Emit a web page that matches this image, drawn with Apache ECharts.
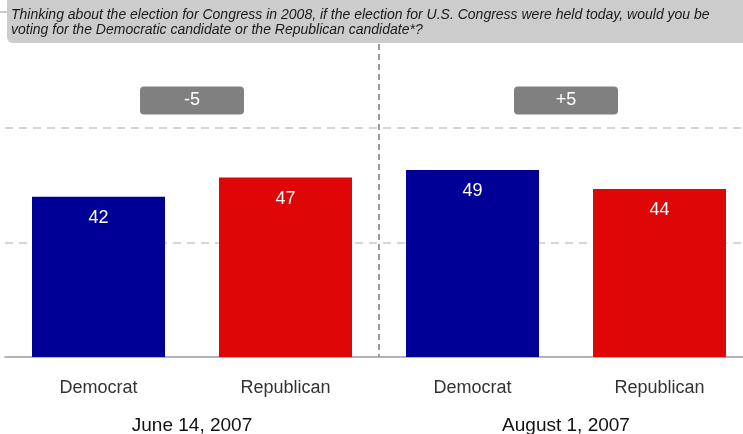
<!DOCTYPE html>
<html><head><meta charset="utf-8">
<script src="https://cdn.jsdelivr.net/npm/echarts@6/dist/echarts.min.js"></script>
<style>html,body{margin:0;padding:0;background:#fff}#c{width:743px;height:434px}</style>
</head><body><div id="c"></div>
<script>
const question = 'Thinking about the election for Congress in 2008, if the election for U.S. Congress were held today, would you be\nvoting for the Democratic candidate or the Republican candidate*?';
const parties = ['Democrat', 'Republican', 'Democrat', 'Republican'];
const dates = ['June 14, 2007', 'August 1, 2007'];
const demValues = [42, 49];
const repValues = [47, 44];
const partyColors = ['#000096', '#DE0606'];

const barData = [];
for (let i = 0; i < dates.length; i++) {
  barData.push({ value: demValues[i], itemStyle: { color: partyColors[0] } });
  barData.push({ value: repValues[i], itemStyle: { color: partyColors[1] } });
}
const leads = dates.map((d, i) => demValues[i] - repValues[i]);
const boxLevel = 67.2;
const FONT = '"Liberation Sans", Arial, sans-serif';

const chart = echarts.init(document.getElementById('c'), null, { renderer: 'canvas' });
chart.setOption({
  animation: false,
  backgroundColor: '#fff',
  graphic: [
    { type: 'rect', shape: { x: 7, y: 0, width: 760, height: 43, r: [0, 0, 0, 6] }, style: { fill: '#cccccc' }, z: 10 },
    { type: 'line', shape: { x1: 0, y1: 12, x2: 7, y2: 12 }, style: { stroke: '#999', lineWidth: 1 }, z: 10 },
    { type: 'text', left: 11, top: 8, z: 11,
      style: { text: question, font: 'italic 14px ' + FONT, fill: '#1a1a1a', lineHeight: 15 } }
  ],
  grid: { left: 5, width: 748, top: 44, bottom: 77, containLabel: false, outerBoundsMode: 'none' },
  xAxis: [
    { type: 'category', data: parties, gridIndex: 0,
      axisLine: { lineStyle: { color: '#9a9a9a', width: 1.5 } },
      axisTick: { length: 6, lineStyle: { color: '#9a9a9a', width: 1.5 } },
      axisLabel: { margin: 22, fontSize: 18, color: '#333', fontFamily: FONT },
      splitLine: { show: false } },
    { type: 'category', data: dates, gridIndex: 0, position: 'bottom',
      axisLine: { show: false }, axisTick: { show: false },
      axisLabel: { margin: 59, fontSize: 19, color: '#111', fontFamily: FONT },
      splitLine: { show: false } },
    { type: 'value', gridIndex: 0, min: 0, max: 2, interval: 1, position: 'top',
      axisLine: { show: false }, axisTick: { show: false }, axisLabel: { show: false },
      splitLine: { show: true, showMinLine: false, showMaxLine: false,
        lineStyle: { color: '#7a7a7a', width: 1.5, type: [6, 4] } } }
  ],
  yAxis: { type: 'value', min: 0, max: 82, interval: 30,
    axisLine: { show: false }, axisTick: { show: false }, axisLabel: { show: false },
    splitLine: { show: true, showMinLine: false, showMaxLine: false,
      lineStyle: { color: '#c8c8c8', width: 1.5, type: [8, 6] } } },
  series: [
    { type: 'bar', xAxisIndex: 0, data: barData, barWidth: 133, z: 3,
      label: { show: true, position: 'insideTop', distance: 12, color: '#fff', fontSize: 18, fontFamily: FONT } },
    { type: 'scatter', xAxisIndex: 1, symbol: 'rect', symbolSize: 1, z: 5,
      itemStyle: { color: 'rgba(0,0,0,0)', opacity: 1 },
      data: leads.map(v => boxLevel),
      label: { show: true, position: 'inside', color: '#fff', fontSize: 18, fontFamily: FONT,
        backgroundColor: '#808080', borderRadius: 4, width: 104, height: 28, lineHeight: 28, align: 'center',
        formatter: (p) => { const v = leads[p.dataIndex]; return v > 0 ? '+' + v : String(v); } } }
  ]
});
</script></body></html>
